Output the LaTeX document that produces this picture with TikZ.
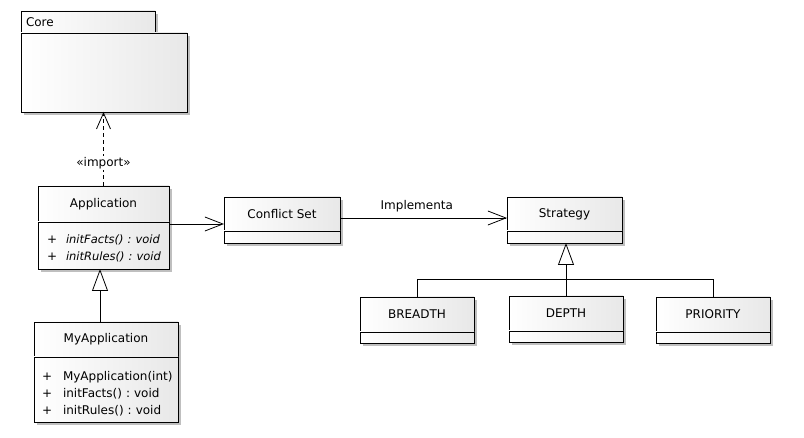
\documentclass[tikz,border=0pt]{standalone}
\usepackage{fontspec}
\setmainfont{DejaVu Sans}
\usetikzlibrary{positioning, arrows.meta, shadows}
\frenchspacing

\tikzset{
  umlbox/.style={draw, line width=0.8pt, left color=white, right color=black!9,
    drop shadow={shadow xshift=3pt, shadow yshift=-3pt, fill=black!25, opacity=1},
    inner sep=0pt, outer sep=0pt, font=\fontsize{12}{17}\selectfont},
  opsbox/.style={umlbox, align=left, inner xsep=9pt},
  depend/.style={line width=0.8pt, dash pattern=on 4pt off 3pt, -{Straight Barb[length=16pt, width=14pt]}},
  assoc/.style={line width=0.8pt, -{Straight Barb[length=18pt, width=14pt]}},
  inherit/.style={line width=0.8pt, -{Triangle[length=22pt, width=16pt, fill=white]}},
  lbl/.style={font=\fontsize{12}{14}\selectfont, inner sep=1pt}
}
\newcommand{\opline}[2]{\mbox{\makebox[#1][l]{+}#2}}

\begin{document}
\begin{tikzpicture}[x=1pt, y=-1pt]
    \useasboundingbox (0,0) rectangle (804,438);

    % Core package
    \node[umlbox, anchor=north west, minimum width=134, minimum height=22,
          text width=124, inner xsep=5pt, align=left] (coretab) at (21,11) {Core};
    \node[umlbox, anchor=north west, minimum width=166, minimum height=79] (core) at (coretab.south west) {};

    % Application
    \node[umlbox, anchor=north west, minimum width=131, minimum height=36] (apphead) at (38,186) {Application};
    \node[opsbox, below=0pt of apphead, minimum height=47, text width=113] (appops)
      {\rule{0pt}{15pt}\opline{19pt}{\textit{\fontsize{11.5}{17}\selectfont initFacts() : void}}\\
       \opline{19pt}{\textit{\fontsize{11.5}{17}\selectfont initRules() : void}}};

    % MyApplication
    \node[umlbox, anchor=north west, minimum width=144, minimum height=35] (myhead) at (34,322) {MyApplication};
    \node[opsbox, below=0pt of myhead, minimum height=65, text width=128, inner xsep=8pt] (myops)
      {\rule{0pt}{17pt}\opline{21pt}{MyApplication(int)}\\ \opline{21pt}{initFacts() : void}\\ \opline{21pt}{initRules() : void}};

    % Conflict Set and Strategy
    \node[umlbox, anchor=north west, minimum width=116, minimum height=34] (confhead) at (224,197) {Conflict Set};
    \node[umlbox, below=0pt of confhead, minimum width=116, minimum height=12] (confops) {};
    \node[umlbox, anchor=north west, minimum width=115, minimum height=34] (strathead) at (507,197) {Strategy};
    \node[umlbox, below=0pt of strathead, minimum width=115, minimum height=12] (stratops) {};

    % Strategies
    \foreach \name/\x/\y/\txt in {breadth/360/297/BREADTH, depth/509/296/DEPTH, priority/656/297/PRIORITY} {
      \node[umlbox, anchor=north west, minimum width=114, minimum height=35] (\name head) at (\x,\y) {\txt};
      \node[umlbox, below=0pt of \name head, minimum width=114, minimum height=11] (\name ops) {};
    }

    % Relations
    \draw[depend] (apphead.north) -- node[lbl, fill=white, pos=0.31] {«import»} (apphead.north |- core.south);
    \draw[assoc] ([yshift=-2pt]appops.north east) -- ([yshift=-2pt]confhead.west |- appops.north east);
    \draw[assoc] ([yshift=-4pt]confhead.east) -- node[lbl, above=5pt, pos=0.46] {Implementa} ([yshift=-4pt]strathead.west);
    \draw[inherit] ([xshift=-6pt]myhead.north) -- ([xshift=-6pt]myhead.north |- appops.south);
    \draw[inherit] (depthhead.north) -- (depthhead.north |- stratops.south);

    \coordinate (bar) at (0,279);
    \draw[line width=0.8pt] (breadthhead.north) -- (breadthhead.north |- bar) -- (priorityhead.north |- bar) -- (priorityhead.north);

\end{tikzpicture}
\end{document}
